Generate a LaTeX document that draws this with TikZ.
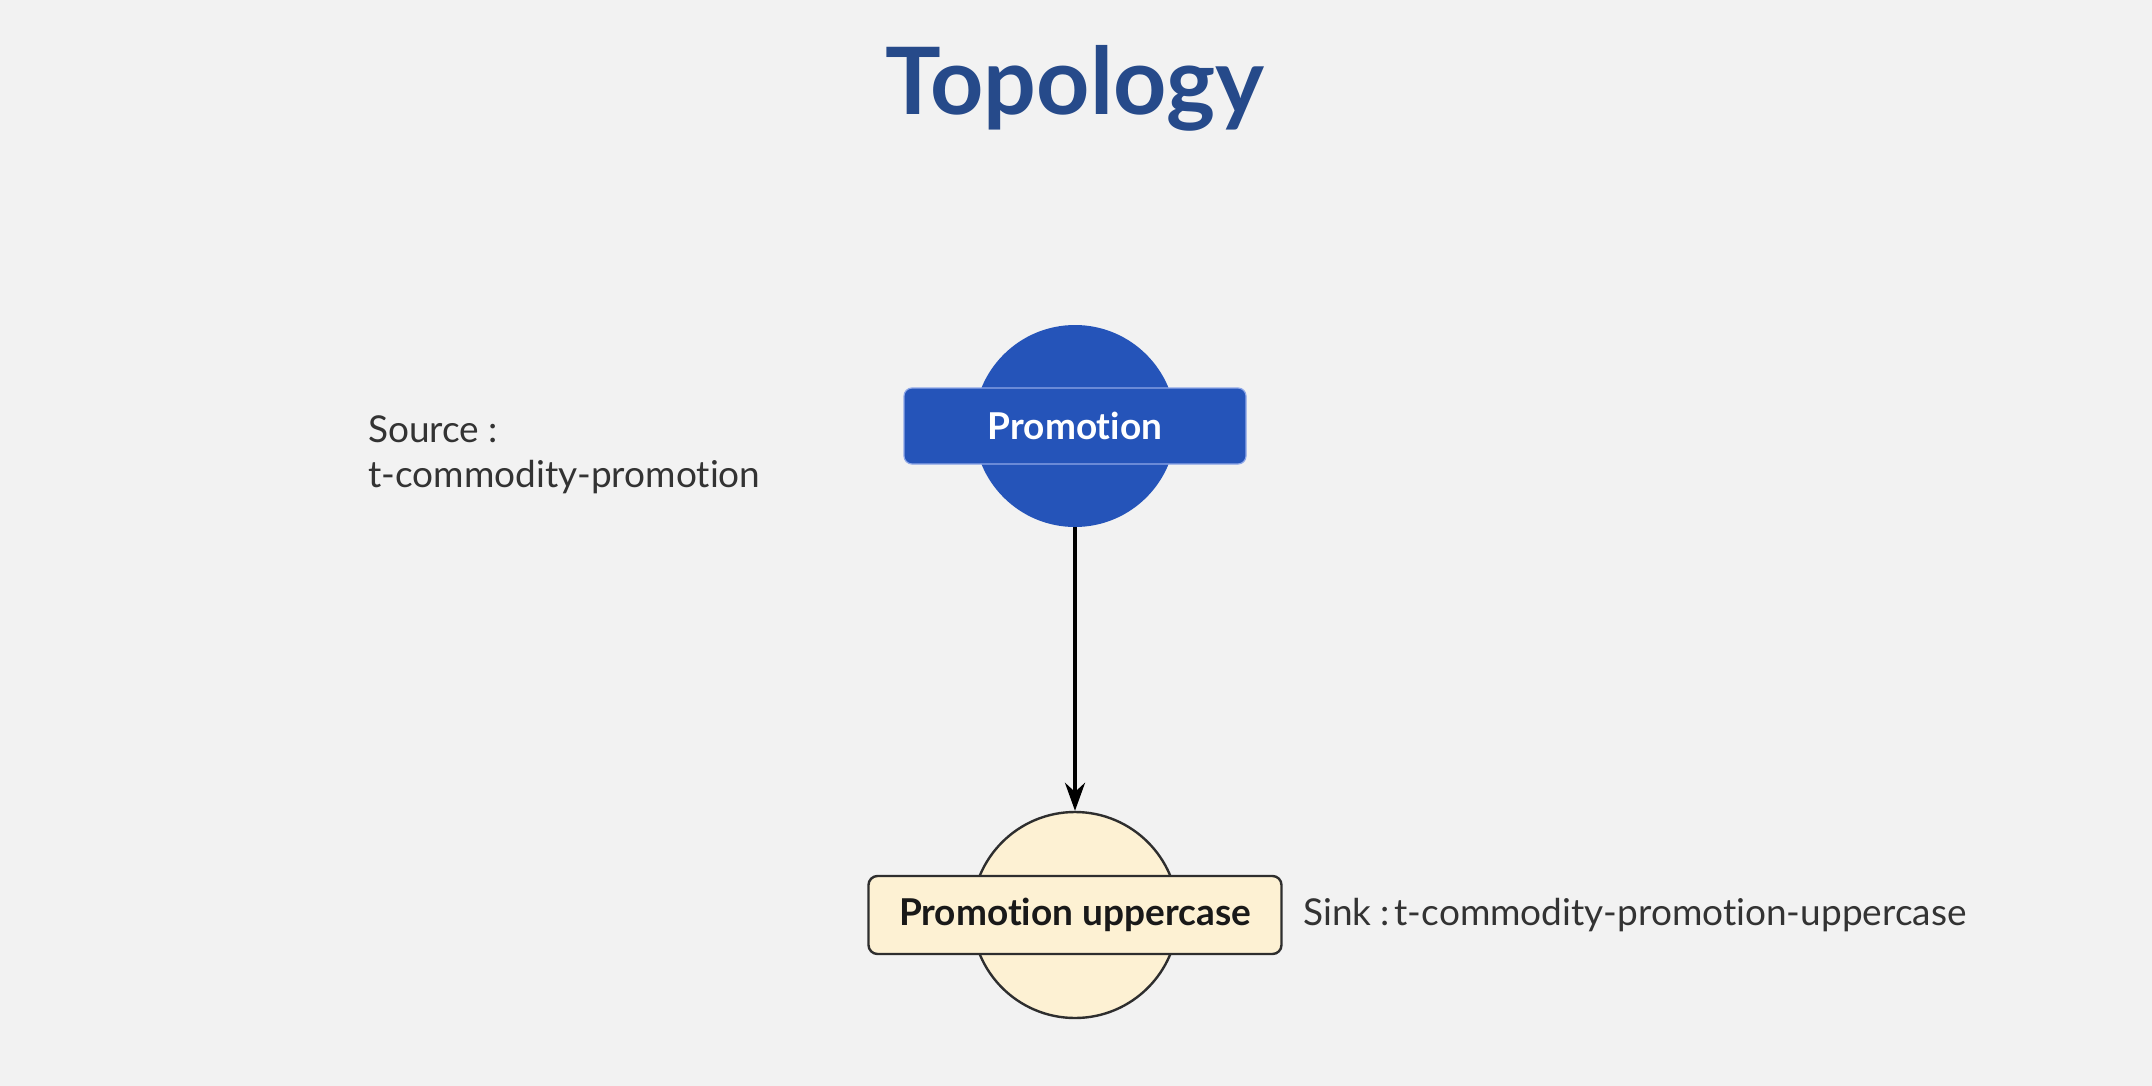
\documentclass[tikz,border=0pt]{standalone}
\usepackage{fontspec}
\setmainfont{Lato}[RawFeature={-liga;-clig;-calt;-dlig}]
\usetikzlibrary{arrows.meta}
\definecolor{bg}{HTML}{F2F2F2}
\definecolor{titleblue}{HTML}{264A8A}
\definecolor{nodeblue}{HTML}{2554B9}
\definecolor{edgeblue}{HTML}{8FA8E8}
\definecolor{cream}{HTML}{FDF1D3}
\definecolor{darkline}{HTML}{2E2E2E}
\definecolor{labeltext}{HTML}{333333}
\tikzset{
  bluecircle/.style={circle, fill=nodeblue, draw=none, minimum size=202pt, inner sep=0},
  bluebox/.style={rectangle, rounded corners=8pt, fill=nodeblue, draw=edgeblue, line width=1.2pt,
    minimum width=342pt, minimum height=76pt, inner sep=0, text=white,
    font=\fontsize{37}{44}\selectfont\bfseries},
  creamcircle/.style={circle, fill=cream, draw=darkline, line width=2.4pt, minimum size=206pt, inner sep=0},
  creambox/.style={rectangle, rounded corners=9pt, fill=cream, draw=darkline, line width=2.4pt,
    minimum width=413pt, minimum height=78pt, inner sep=0, text=black!90,
    font=\fontsize{37}{44}\selectfont\bfseries},
  sidelabel/.style={inner sep=0, text=labeltext, font=\fontsize{37}{45}\selectfont},
  flow/.style={line width=3.6pt, -{Stealth[length=28pt,width=20pt]}}
}
\begin{document}
\begin{tikzpicture}[x=1pt,y=-1pt]
\fill[bg] (0,0) rectangle (2152,1086);
\useasboundingbox (0,0) rectangle (2152,1086);
\node[anchor=base, inner sep=0, text=titleblue, font=\fontsize{93}{110}\selectfont\bfseries] (title) at (1075,115) {Topology};
\node[bluecircle] (c1) at (1075,426) {};
\node[bluebox] (p1) at (1075,426) {Promotion};
\node[creamcircle] (c2) at (1075,915) {};
\node[creambox] (p2) at (1075,915) {Promotion uppercase};
\draw[flow] (c1.south) -- (c2.north);
\node[sidelabel, anchor=north west, align=left] (src) at (368,415) {Source :\\t-commodity-promotion};
\node[sidelabel, anchor=base west] (snk) at (1303,925) {Sink :\hspace{0.12em}t-commodity-promotion-uppercase};
\end{tikzpicture}
\end{document}
